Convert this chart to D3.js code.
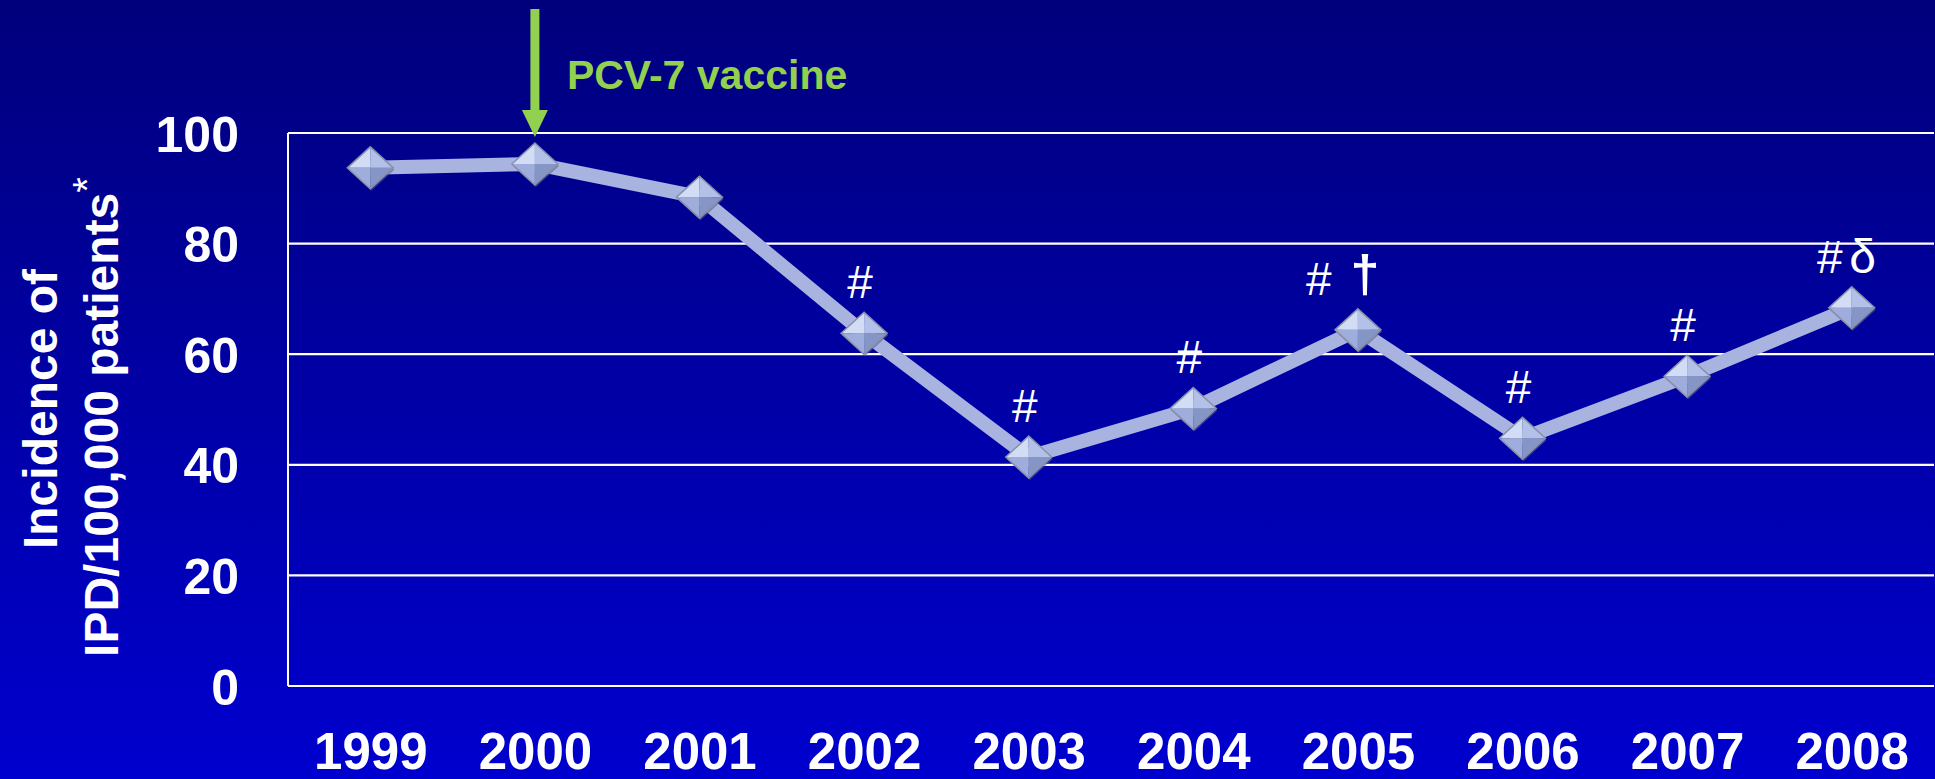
<!DOCTYPE html>
<html>
<head>
<meta charset="utf-8">
<script src="https://cdn.jsdelivr.net/npm/d3@7"></script>
<style>
	html, body { margin: 0; padding: 0; background: #000080; }
	svg { display: block; }
	text { font-family: "Liberation Sans", Arial, sans-serif; fill: #fff; }
</style>
</head>
<body>
<div id="chart"></div>
<script>
// data
var years = ["1999", "2000", "2001", "2002", "2003", "2004", "2005", "2006", "2007", "2008"];
var incidence = [93.7, 94.4, 88.4, 63.8, 41.4, 50.2, 64.4, 44.8, 56.0, 68.4];
var marks = ["", "", "", "#", "#", "#", "# \u2020", "#", "#", "# \u03b4"];
var yTicks = [0, 20, 40, 60, 80, 100];
var vaccineYear = "2000";
var vaccineLabel = "PCV-7 vaccine";

var W = 1935, H = 779;
var margin = { top: 133, right: 1, bottom: 93, left: 288 };
var width = W - margin.left - margin.right,
	height = H - margin.top - margin.bottom;

var svg = d3.select("#chart")
	.append("svg")
	.attr("width", W)
	.attr("height", H);

var defs = svg.append("defs");
var bg = defs.append("linearGradient")
	.attr("id", "bg")
	.attr("x1", 0).attr("y1", 0).attr("x2", 0).attr("y2", 1);
bg.append("stop").attr("offset", "0%").attr("stop-color", "#00007c");
bg.append("stop").attr("offset", "100%").attr("stop-color", "#0000cf");

svg.append("rect")
	.attr("width", W)
	.attr("height", H)
	.attr("fill", "url(#bg)");

var g = svg.append("g")
	.attr("transform", "translate(" + margin.left + "," + margin.top + ")");

var x = d3.scalePoint()
	.domain(years)
	.range([0, width])
	.padding(0.5);

var y = d3.scaleLinear()
	.domain([0, 100])
	.range([height, 0]);

// grid lines
g.selectAll(".grid")
	.data(yTicks)
	.enter()
	.append("line")
	.attr("class", "grid")
	.attr("x1", 0)
	.attr("x2", width)
	.attr("y1", function (d) { return y(d); })
	.attr("y2", function (d) { return y(d); })
	.attr("stroke", "#fff")
	.attr("stroke-width", 2.2);

g.append("line")
	.attr("x1", 0).attr("x2", 0)
	.attr("y1", y(100)).attr("y2", y(0))
	.attr("stroke", "#fff")
	.attr("stroke-width", 2);

// y axis ticks
var yAxis = d3.axisLeft(y).tickValues(yTicks).tickSize(0).tickPadding(49);
var yg = g.append("g").call(yAxis);
yg.select(".domain").remove();
yg.selectAll("text")
	.attr("font-size", 50)
	.attr("font-weight", "bold")
	.attr("font-family", "Liberation Sans, Arial, sans-serif")
	.attr("fill", "#fff")
	.attr("dy", "0.36em");

// x axis labels
var xAxis = d3.axisBottom(x).tickSize(0).tickPadding(47);
var xg = g.append("g")
	.attr("transform", "translate(0," + height + ")")
	.call(xAxis);
xg.select(".domain").remove();
xg.selectAll("text")
	.attr("font-size", 51)
	.attr("font-weight", "bold")
	.attr("font-family", "Liberation Sans, Arial, sans-serif")
	.attr("fill", "#fff")
	.attr("dy", "0.71em");

// y axis title
svg.append("text")
	.attr("transform", "translate(57,409) rotate(-90)")
	.attr("text-anchor", "middle")
	.attr("font-size", 48)
	.attr("font-weight", "bold")
	.text("Incidence of");

var t2 = svg.append("text")
	.attr("transform", "translate(118,417) rotate(-90)")
	.attr("text-anchor", "middle")
	.attr("font-size", 48)
	.attr("font-weight", "bold");
t2.append("tspan").text("IPD/100,000 patients");
t2.append("tspan")
	.attr("font-size", 40)
	.attr("font-weight", "normal")
	.attr("dy", -17)
	.text("*");

// series line
var data = years.map(function (d, i) {
	return { year: d, value: incidence[i], mark: marks[i] };
});

g.append("path")
	.datum(data)
	.attr("fill", "none")
	.attr("stroke", "#a9b3e0")
	.attr("stroke-width", 14)
	.attr("stroke-linejoin", "round")
	.attr("d", d3.line()
		.x(function (d) { return x(d.year); })
		.y(function (d) { return y(d.value); })
	);

// diamond markers, four shaded facets
var hw = 23, hh = 21;
var facets = [
	{ pts: [[-hw, 0], [0, -hh], [0, 0]], fill: "#d3dcf5" },
	{ pts: [[0, -hh], [hw, 0], [0, 0]], fill: "#b3c0e8" },
	{ pts: [[-hw, 0], [0, hh], [0, 0]], fill: "#9eaddb" },
	{ pts: [[0, hh], [hw, 0], [0, 0]], fill: "#8595c6" }
];

var markers = g.selectAll(".marker")
	.data(data)
	.enter()
	.append("g")
	.attr("class", "marker")
	.attr("transform", function (d) {
		return "translate(" + x(d.year) + "," + y(d.value) + ")";
	});

markers.append("path")
	.attr("d", "M" + (-hw + 1) + ",2L1," + (hh + 2) + "L" + (hw + 1) + ",2L1," + (-hh + 2) + "Z")
	.attr("fill", "#5a6290")
	.attr("opacity", 0.6);

facets.forEach(function (f) {
	markers.append("path")
		.attr("d", "M" + f.pts.join("L") + "Z")
		.attr("fill", f.fill);
});

markers.append("path")
	.attr("d", "M" + (-hw) + ",0L0," + (-hh) + "L" + hw + ",0L0," + hh + "Z")
	.attr("fill", "none")
	.attr("stroke", "#8890aa")
	.attr("stroke-width", 1.5);

// significance marks
markers.each(function (d) {
	if (!d.mark) return;
	var parts = d.mark.split(" ");
	var sel = d3.select(this);
	var x0 = parts.length > 1 ? (parts[1] === "\u2020" ? -39 : -22) : -4;
	sel.append("text")
		.attr("x", x0)
		.attr("y", -35)
		.attr("text-anchor", "middle")
		.attr("font-family", "Liberation Serif, Times New Roman, serif")
		.attr("font-size", 46)
		.text(parts[0]);
	if (parts.length > 1) {
		var dagger = parts[1] === "\u2020";
		sel.append("text")
			.attr("x", dagger ? 7 : 11)
			.attr("y", dagger ? -38 : -35)
			.attr("text-anchor", "middle")
			.attr("font-family", "Liberation Serif, Times New Roman, serif")
			.attr("font-weight", dagger ? "bold" : "normal")
			.attr("font-size", dagger ? 52 : 48)
			.text(parts[1]);
	}
});

// vaccine arrow
var ax = margin.left + x(vaccineYear);
var green = "#92d050";
svg.append("line")
	.attr("x1", ax).attr("x2", ax)
	.attr("y1", 9).attr("y2", 112)
	.attr("stroke", green)
	.attr("stroke-width", 9);
svg.append("path")
	.attr("d", "M" + (ax - 13) + ",110L" + (ax + 13) + ",110L" + ax + ",137Z")
	.attr("fill", green);

svg.append("text")
	.attr("x", ax + 32)
	.attr("y", 89)
	.attr("font-size", 41)
	.attr("font-weight", "bold")
	.style("fill", green)
	.text(vaccineLabel);
</script>
</body>
</html>
